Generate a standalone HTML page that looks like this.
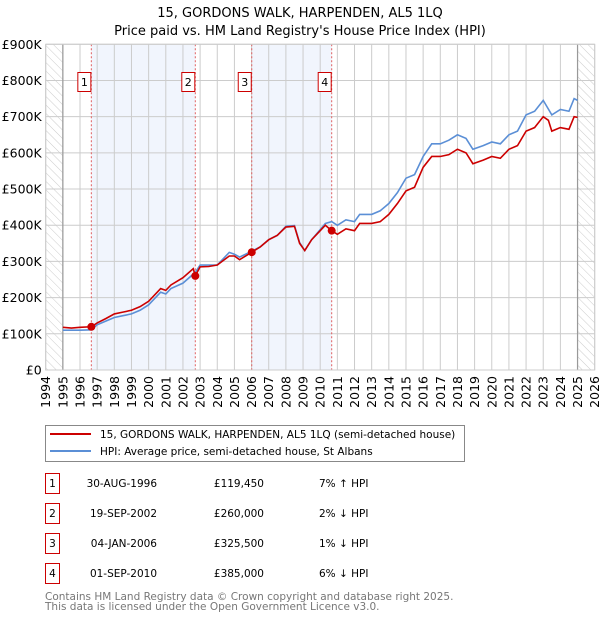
<!DOCTYPE html>
<html><head><meta charset="utf-8"><style>
body{margin:0;background:#fff;font-family:"DejaVu Sans","Liberation Sans",sans-serif;}
svg text{font-family:"DejaVu Sans","Liberation Sans",sans-serif;}
</style></head><body>
<svg id="c" width="600" height="620" viewBox="0 0 600 620" xmlns="http://www.w3.org/2000/svg">
<defs><pattern id="hatch" width="6" height="6" patternUnits="userSpaceOnUse" patternTransform="rotate(-45)"><line x1="0" y1="0" x2="0" y2="6" stroke="#ccc" stroke-width="1"/></pattern></defs>
<text x="300" y="17" text-anchor="middle" font-size="13">15, GORDONS WALK, HARPENDEN, AL5 1LQ</text>
<text x="300" y="35" text-anchor="middle" font-size="13">Price paid vs. HM Land Registry's House Price Index (HPI)</text>
<g id="plot"></g>
<g>
<rect x="45.5" y="425.5" width="419" height="36" fill="#fff" stroke="#888"/>
<line x1="50" y1="434" x2="91" y2="434" stroke="#cc0000" stroke-width="2"/>
<text x="100" y="438" font-size="10.5">15, GORDONS WALK, HARPENDEN, AL5 1LQ (semi-detached house)</text>
<line x1="50" y1="451" x2="91" y2="451" stroke="#5b8fd6" stroke-width="2"/>
<text x="100" y="455" font-size="10.5">HPI: Average price, semi-detached house, St Albans</text>
</g>
<g id="table" font-size="10.5"></g>
<text x="45" y="600" font-size="10.5" fill="#777">Contains HM Land Registry data © Crown copyright and database right 2025.</text>
<text x="45" y="610" font-size="10.5" fill="#777">This data is licensed under the Open Government Licence v3.0.</text>
</svg>
<script>
const priceYears=[1995,1995.5,1996,1996.66,1997,1997.5,1998,1998.5,1999,1999.5,2000,2000.7,2001,2001.3,2002,2002.6,2002.72,2003,2003.5,2004,2004.7,2005,2005.3,2006,2006.5,2007,2007.5,2008,2008.5,2008.8,2009.1,2009.5,2010,2010.3,2010.67,2011,2011.5,2012,2012.3,2013,2013.5,2014,2014.5,2015,2015.5,2016,2016.5,2017,2017.5,2018,2018.5,2018.9,2019.5,2020,2020.5,2021,2021.5,2022,2022.5,2023,2023.3,2023.5,2024,2024.5,2024.8,2025];
const priceVals=[118,116,118,119.45,130,142,155,160,165,175,190,225,220,235,255,280,260,285,286,290,315,315,305,325,340,360,372,395,397,350,330,360,385,400,385,375,390,385,405,405,410,430,460,495,505,560,590,590,595,610,600,570,580,590,585,610,620,660,670,700,690,660,670,665,700,698];
const hpiYears=[1995,1995.5,1996,1996.66,1997,1997.5,1998,1998.5,1999,1999.5,2000,2000.7,2001,2001.3,2002,2002.6,2002.72,2003,2003.5,2004,2004.7,2005,2005.3,2006,2006.5,2007,2007.5,2008,2008.5,2008.8,2009.1,2009.5,2010,2010.3,2010.67,2011,2011.5,2012,2012.3,2013,2013.5,2014,2014.5,2015,2015.5,2016,2016.5,2017,2017.5,2018,2018.5,2018.9,2019.5,2020,2020.5,2021,2021.5,2022,2022.5,2023,2023.5,2024,2024.5,2024.8,2025];
const hpiVals=[110,110,110,111,125,135,145,150,155,165,180,215,210,225,240,265,270,290,290,290,325,320,312,328,340,360,372,397,399,352,330,360,388,405,410,400,415,410,430,430,440,460,490,530,540,590,625,625,635,650,640,610,620,630,625,650,660,705,715,745,705,720,715,750,745];
const saleLabels=["1","2","3","4"];
const saleYears=[1996.66,2002.72,2006.01,2010.67];
const saleVals=[119.45,260,325.5,385];
const saleDates=["30-AUG-1996","19-SEP-2002","04-JAN-2006","01-SEP-2010"];
const salePrices=["£119,450","£260,000","£325,500","£385,000"];
const saleHpi=["7% ↑ HPI","2% ↓ HPI","1% ↓ HPI","6% ↓ HPI"];
const yTicks=[0,100,200,300,400,500,600,700,800,900];
const yTickLabels=["£0","£100K","£200K","£300K","£400K","£500K","£600K","£700K","£800K","£900K"];

const X0=45.7,X1=594.7,Y0=370,Y1=44.3;
const x=v=>X0+(v-1994)/32*(X1-X0);
const y=v=>Y0-v/900*(Y0-Y1);
const NS="http://www.w3.org/2000/svg";
const plot=document.getElementById('plot');
function mk(tag,attrs,parent){const e=document.createElementNS(NS,tag);for(const k in attrs)e.setAttribute(k,attrs[k]);(parent||plot).appendChild(e);return e;}

let e=mk('rect',{x:X0,y:Y1,width:X1-X0,height:Y0-Y1,fill:'#fff'});


for(let i=0;i<saleYears.length-1;i+=2){
 e=mk('rect',{x:x(saleYears[i]),y:Y1,width:x(saleYears[i+1])-x(saleYears[i]),height:Y0-Y1,fill:'#eef3fc',opacity:0.8});
 
 
}
e=mk('rect',{x:x(1994),y:Y1,width:x(1995)-x(1994),height:Y0-Y1,fill:'url(#hatch)'});


e=mk('rect',{x:x(2025),y:Y1,width:x(2026)-x(2025),height:Y0-Y1,fill:'url(#hatch)'});


for(let yr=1994;yr<=2026;yr++){
 e=mk('line',{x1:x(yr),x2:x(yr),y1:Y1,y2:Y0,stroke:'#ccc','stroke-width':1});
 
 
 const t=mk('text',{transform:`translate(${x(yr)+4.5},${Y0+6}) rotate(-90)`,'text-anchor':'end','font-size':12.5});
 t.textContent=yr;
 
 
}
yTicks.forEach((v,i)=>{
 e=mk('line',{x1:X0,x2:X1,y1:y(v),y2:y(v),stroke:'#ccc','stroke-width':1});
 
 
 const t=mk('text',{x:X0-4,y:y(v)+4.5,'text-anchor':'end','font-size':12.5});
 t.textContent=yTickLabels[i];
 
 
});
e=mk('line',{x1:x(1995),x2:x(1995),y1:Y1,y2:Y0,stroke:'#999','stroke-width':1.2});


e=mk('line',{x1:x(2025),x2:x(2025),y1:Y1,y2:Y0,stroke:'#999','stroke-width':1.2});


saleYears.forEach((s,i)=>{
 e=mk('line',{x1:x(s),x2:x(s),y1:Y1,y2:Y0,stroke:'#e06060','stroke-width':1,'stroke-dasharray':'2,2'});
 
 
});
e=mk('polyline',{points:hpiYears.map((v,i)=>x(v)+','+y(hpiVals[i])).join(' '),fill:'none',stroke:'#5b8fd6','stroke-width':1.6});


e=mk('polyline',{points:priceYears.map((v,i)=>x(v)+','+y(priceVals[i])).join(' '),fill:'none',stroke:'#cc0000','stroke-width':1.6});


saleYears.forEach((s,i)=>{
 e=mk('circle',{cx:x(s),cy:y(saleVals[i]),r:4,fill:'#cc0000'});
 
 
 e=mk('rect',{x:x(s)-13.5,y:72.5,width:13,height:19,fill:'#fff',stroke:'#cc0000'});
 
 
 const t=mk('text',{x:x(s)-7,y:86,'text-anchor':'middle','font-size':11});
 t.textContent=saleLabels[i];
 
 
});
e=mk('rect',{x:X0,y:Y1,width:X1-X0,height:Y0-Y1,fill:'none',stroke:'#ccc'});



const tb=document.getElementById('table');
saleLabels.forEach((l,i)=>{
 const cy=483+i*30;
 e=mk('rect',{x:45.5,y:cy-9.5,width:14,height:20,fill:'#fff',stroke:'#cc0000'},tb);
 
 
 let t=mk('text',{x:52.5,y:cy+4,'text-anchor':'middle'},tb);t.textContent=l;
 
 
 t=mk('text',{x:157,y:cy+4,'text-anchor':'end'},tb);t.textContent=saleDates[i];
 
 
 t=mk('text',{x:264,y:cy+4,'text-anchor':'end'},tb);t.textContent=salePrices[i];
 
 
 t=mk('text',{x:319,y:cy+4},tb);t.textContent=saleHpi[i];
 
 
});
</script>
</body></html>
